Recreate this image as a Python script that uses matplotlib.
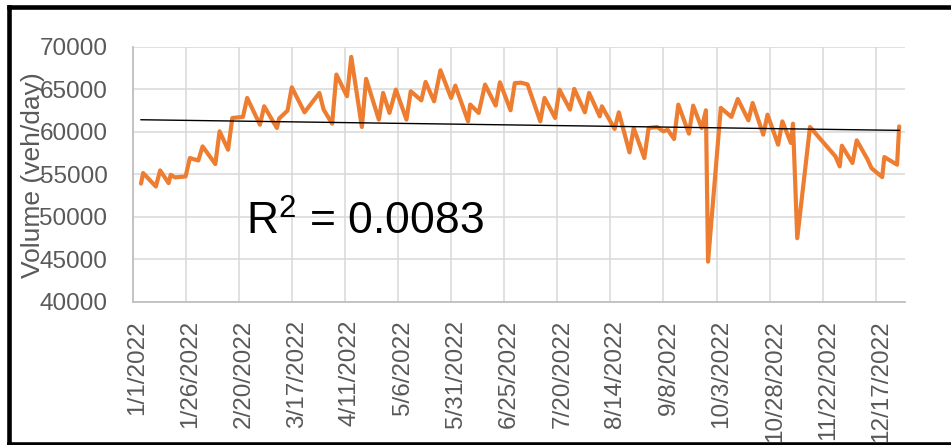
import numpy as np
import pandas as pd
import matplotlib
matplotlib.use("Agg")
import matplotlib.pyplot as plt
import matplotlib.dates as mdates
import matplotlib.transforms as mtransforms
from matplotlib.lines import Line2D

# ---- data ----
start_date = "2022-01-01"
days = [4, 5, 11, 13, 17, 18, 20, 25, 27, 31, 33, 39, 41, 45, 47, 52, 54, 60, 62,
        68, 69, 73, 75, 81, 88, 90, 94, 96, 101, 103, 108, 110, 116, 118, 121, 124,
        129, 131, 136, 138, 142, 145, 150, 152, 158, 159, 163, 166, 171, 173, 178,
        180, 183, 186, 192, 194, 199, 201, 206, 208, 213, 215, 220, 221, 227, 229,
        234, 236, 241, 243, 247, 250, 252, 255, 257, 262, 264, 268, 270, 271, 277,
        282, 285, 290, 292, 297, 299, 304, 306, 310, 311, 313, 319, 331, 333, 334,
        339, 341, 346, 348, 353, 354, 360, 361]
volume = [53900, 55140, 53560, 55450, 53960, 54940, 54630, 54740, 56900, 56620,
          58270, 56200, 60040, 57880, 61610, 61730, 63960, 60820, 62980, 60430,
          61530, 62470, 65210, 62270, 64550, 62590, 60940, 66710, 64160, 68780,
          60550, 66200, 61410, 64550, 62200, 64940, 61410, 64740, 63680, 65840,
          63560, 67210, 63960, 65410, 61210, 63180, 62200, 65530, 63060, 65800,
          62510, 65700, 65750, 65550, 61210, 63960, 61610, 64940, 62590, 65020,
          62270, 64550, 61800, 62980, 60320, 62270, 57570, 60430, 56900, 60430,
          60550, 60040, 60230, 59140, 63180, 59770, 63060, 60430, 62510, 44740,
          62790, 61730, 63840, 61330, 63370, 59650, 62000, 58470, 61210, 58670,
          60940, 47490, 60550, 57090, 55920, 58350, 56320, 58980, 56790, 55700,
          54670, 57020, 56120, 60620]
y_ticks = [40000, 45000, 50000, 55000, 60000, 65000, 70000]
tick_step_days = 25
n_xticks = 15
axis_end_day = 363.5
r2_label = "R$^2$ = 0.0083"
y_label = "Volume (veh/day)"

assert len(days) == len(volume)

dates = pd.Timestamp(start_date) + pd.to_timedelta(days, unit="D")
x = mdates.date2num(dates.to_pydatetime())

plt.rcParams['font.family'] = ['Liberation Sans', 'DejaVu Sans']
plt.rcParams['mathtext.fontset'] = 'custom'
plt.rcParams['mathtext.rm'] = 'Liberation Sans'
plt.rcParams['mathtext.default'] = 'regular'

W, H = 951, 445
fig = plt.figure(figsize=(W / 100, H / 100), dpi=100)
ax = fig.add_axes([132.5 / W, 1 - 302 / H, (904.5 - 132.5) / W, (302 - 46.5) / H])

ax.plot(x, volume, color="#ED7D31", lw=3.0, solid_joinstyle="round",
        solid_capstyle="round", zorder=3)

# linear trend line
coef = np.polyfit(x, volume, 1)
xt = np.array([x[0], x[-1]])
ax.plot(xt, np.polyval(coef, xt), color="black", lw=1.0, zorder=4)

x0 = mdates.date2num(pd.Timestamp(start_date).to_pydatetime())
ax.set_xlim(x0, x0 + axis_end_day)
ax.set_ylim(y_ticks[0], y_ticks[-1])
ax.set_yticks(y_ticks)
tick_dates = pd.date_range(start_date, periods=n_xticks, freq=f"{tick_step_days}D")
ax.set_xticks(mdates.date2num(tick_dates.to_pydatetime()))
ax.set_xticklabels([f"{d.month}/{d.day}/{d.year}" for d in tick_dates], rotation=90)

ax.grid(True, color="#d9d9d9", lw=1.1)
ax.set_axisbelow(True)
for s in ["top", "right"]:
    ax.spines[s].set_visible(False)
for s in ["left", "bottom"]:
    ax.spines[s].set_color("#bfbfbf")
    ax.spines[s].set_linewidth(1.3)
ax.tick_params(axis="both", length=0, labelsize=17.5, colors="#595959")
ax.tick_params(axis="y", pad=18)
ax.tick_params(axis="x", pad=13)
offset = mtransforms.ScaledTranslation(5 / 100, 0, fig.dpi_scale_trans)
for lab in ax.get_xticklabels():
    lab.set_transform(lab.get_transform() + offset)

fig.text(33 / W, 1 - 175 / H, y_label, rotation=90, ha="center", va="center",
         fontsize=19, color="#595959")
fig.text(246 / W, 1 - 235 / H, r2_label, ha="left", va="baseline",
         fontsize=32, color="black")

# outer frame
fig.add_artist(Line2D([9 / W, 9 / W], [0, 1 - 7 / H], color="black", lw=3.3,
                      transform=fig.transFigure))
fig.add_artist(Line2D([9 / W, 1], [1 - 7 / H, 1 - 7 / H], color="black", lw=3.3,
                      transform=fig.transFigure))
fig.add_artist(Line2D([9 / W, 1], [1 - 444 / H, 1 - 444 / H], color="black", lw=3.3,
                      transform=fig.transFigure))

fig.savefig("out.png", dpi=100)
